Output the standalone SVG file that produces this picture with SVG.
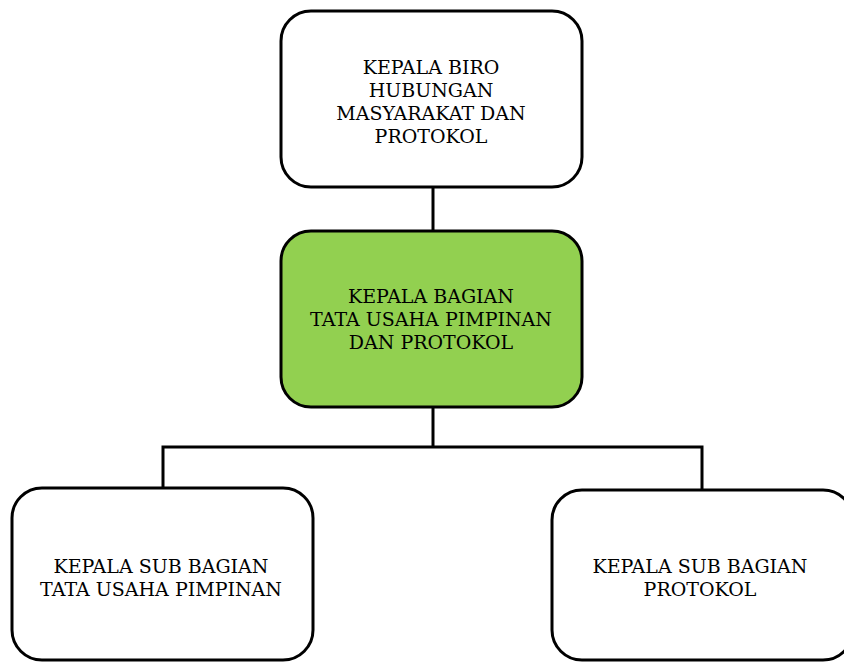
<svg xmlns="http://www.w3.org/2000/svg" width="844" height="662" viewBox="0 0 844 662">
<style>
.box{fill:#ffffff;stroke:#000000;stroke-width:3}
.green{fill:#92D050}
.lbl{font-family:"DejaVu Serif","Liberation Serif",serif;font-size:19px;fill:#000000;text-anchor:middle}
.conn{fill:none;stroke:#000000;stroke-width:3}
</style>
<rect width="844" height="662" fill="#ffffff"/>
<g id="connectors">
<line class="conn" x1="433" y1="187" x2="433" y2="231"/>
<polyline class="conn" points="433,407 433,447"/>
<polyline class="conn" points="163,488 163,447 702,447 702,490"/>
</g>
<g id="node-biro">
<rect class="box" x="281" y="11" width="301" height="176" rx="30"/>
<text class="lbl" x="431" y="74">KEPALA BIRO</text>
<text class="lbl" x="431" y="97">HUBUNGAN</text>
<text class="lbl" x="431" y="120">MASYARAKAT DAN</text>
<text class="lbl" x="431" y="143">PROTOKOL</text>
</g>
<g id="node-bagian">
<rect class="box green" x="281" y="231" width="301" height="176" rx="30"/>
<text class="lbl" x="431" y="303">KEPALA BAGIAN</text>
<text class="lbl" x="431" y="326">TATA USAHA PIMPINAN</text>
<text class="lbl" x="431" y="349">DAN PROTOKOL</text>
</g>
<g id="node-subbag-tu">
<rect class="box" x="12" y="488" width="301" height="172" rx="30"/>
<text class="lbl" x="161" y="573">KEPALA SUB BAGIAN</text>
<text class="lbl" x="161" y="596">TATA USAHA PIMPINAN</text>
</g>
<g id="node-subbag-protokol">
<rect class="box" x="552" y="490" width="301" height="170" rx="30"/>
<text class="lbl" x="700" y="573">KEPALA SUB BAGIAN</text>
<text class="lbl" x="700" y="596">PROTOKOL</text>
</g>
</svg>
